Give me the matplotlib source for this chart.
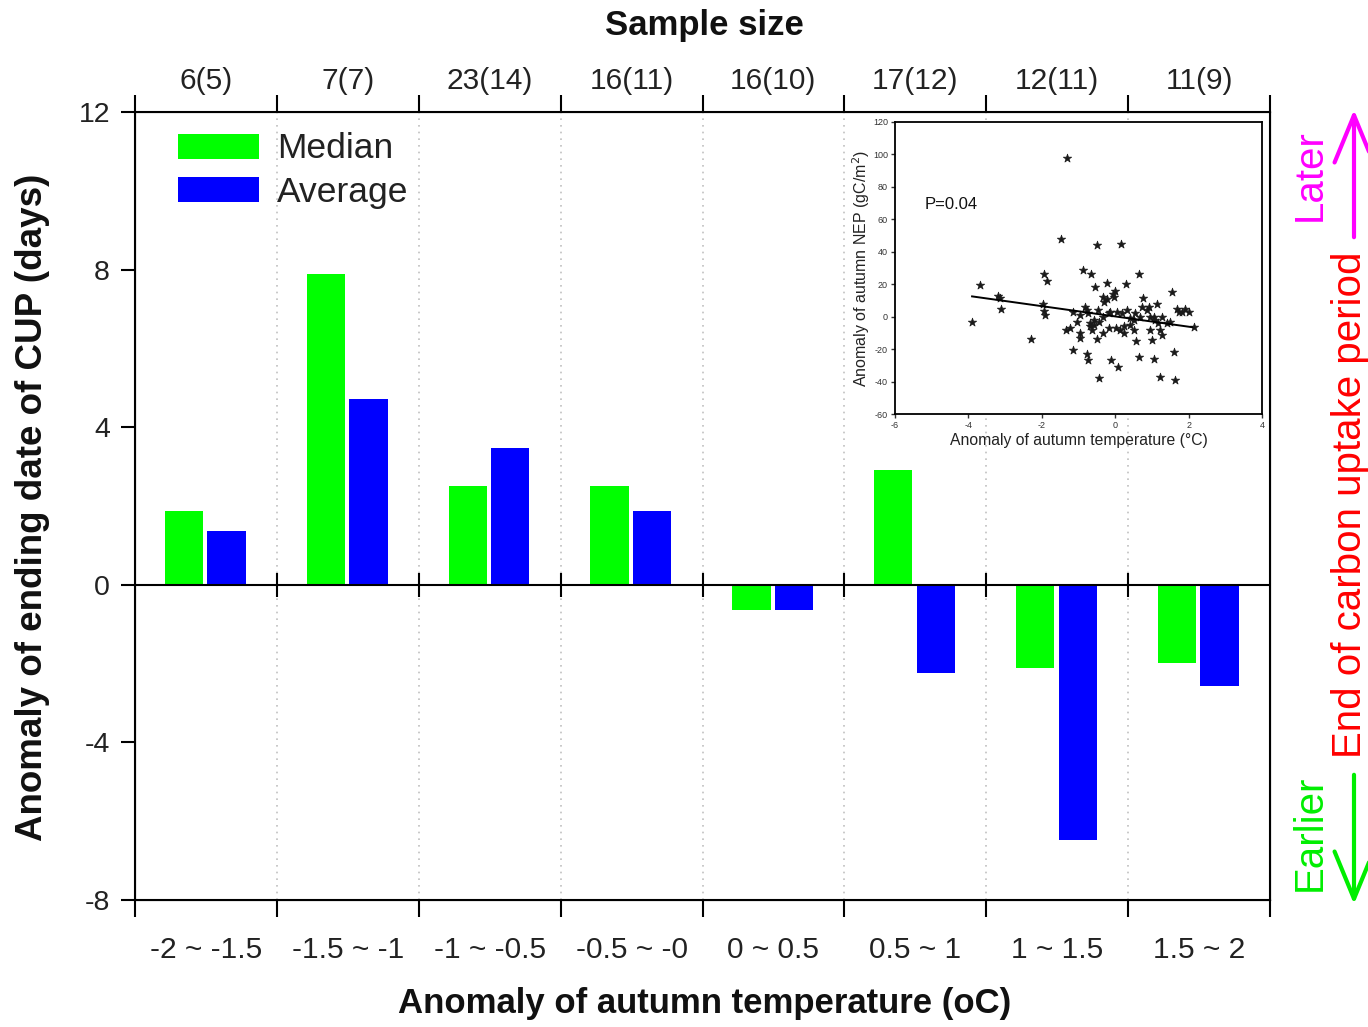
import numpy as np
import matplotlib
matplotlib.use("Agg")
import matplotlib.pyplot as plt

plt.rcParams['font.family'] = ['Liberation Sans', 'DejaVu Sans']
plt.rcParams['axes.unicode_minus'] = False

categories = ["-2 ~ -1.5", "-1.5 ~ -1", "-1 ~ -0.5", "-0.5 ~ -0", "0 ~ 0.5", "0.5 ~ 1", "1 ~ 1.5", "1.5 ~ 2"]
sample_sizes = ["6(5)", "7(7)", "23(14)", "16(11)", "16(10)", "17(12)", "12(11)", "11(9)"]
median_vals = [1.88, 7.9, 2.51, 2.51, -0.63, 2.92, -2.1, -1.98]
average_vals = [1.37, 4.72, 3.48, 1.88, -0.63, -2.23, -6.47, -2.56]

# inset scatter data (autumn temperature anomaly vs autumn NEP anomaly)
temp_anom = [-3.89, -3.68, -3.18, -3.15, -3.12, -2.29, -1.94, -1.86, -1.98, -1.94, -1.91, -1.48,
             -1.31, -1.35, -1.14, -1.03, -0.97, -0.95, -0.88, -0.77, -0.73, -0.82, -0.66, -0.70,
             -0.64, -0.55, -0.50, -0.50, -0.48, -0.43, -0.32, -0.32, -0.30, -0.23, -0.18, -0.12,
             -0.05, -0.03, 0.00, 0.07, 0.16, 0.01, 0.23, 0.30, 0.25, 0.50, 0.57, 0.64, 0.64, 0.77,
             0.73, 0.94, 0.99, 1.05, 1.14, 1.21, 1.27, 1.23, 1.56, 1.59, 1.62, 1.68, 1.73, 1.91,
             2.00, 2.14, 1.50, 0.95, 0.86, 1.05, 1.09, 0.41, 0.32, 0.18, 0.05, -0.14, -0.32, -0.45,
             -0.59, -0.73, -1.14, -1.23, -0.18, 0.50, -0.59, 1.41, 1.82, 0.55, 0.68, 1.27, -0.68,
             0.14, 0.41, -0.23, 0.91, -0.95, -0.77, 1.16]
nep_anom = [-3.5, 19.7, 13.0, 11.7, 4.5, -13.5, 26.0, 22.0, 8.0, 3.3, 0.8, 48.0,
            97.5, -8.0, -20.7, -3.3, -13.0, -10.0, 29.0, -23.0, -27.0, 6.0, 26.0, -4.0,
            -8.0, 18.0, 44.0, -14.0, 4.0, -38.0, -10.0, 12.0, 9.0, 21.0, -7.0, -27.0,
            14.0, 12.0, 16.0, -31.0, 45.0, -7.0, -6.0, 20.0, -10.0, -8.0, -15.0, 26.5, -25.0, 11.5,
            6.0, -8.0, -14.6, -26.0, 8.0, -37.0, -11.5, -8.0, 15.0, -21.6, -39.0, 5.0, 3.0, 5.0,
            3.0, -6.5, -3.3, 0.0, 4.0, -0.2, -2.0, -1.0, 4.0, 2.0, 3.0, 3.0, 0.0, -3.0,
            -2.0, 2.0, 3.0, -7.0, 2.0, -2.0, -5.0, -4.0, 3.0, 2.0, 0.0, 0.0, -6.0,
            -8.0, -5.0, 11.0, 6.0, 1.0, 4.0, -4.0]
fit_x = [-3.9, 2.1]
fit_y = [12.5, -6.5]

W, H = 1368, 1027
fig = plt.figure(figsize=(W / 100, H / 100), dpi=100)
ax = fig.add_axes([135 / W, 1 - 900 / H, (1270 - 135) / W, (900 - 112) / H])

n = len(categories)
centers = np.arange(n) + 0.5
bw = 0.27
ax.bar(centers - 0.155, median_vals, width=bw, color='#00ff00', label='Median', zorder=3)
ax.bar(centers + 0.145, average_vals, width=bw, color='#0000ff', label='Average', zorder=3)

ax.set_xlim(0, n)
ax.set_ylim(-8, 12)
ax.set_yticks([-8, -4, 0, 4, 8, 12])
ax.set_xticks(np.arange(n + 1))
ax.set_xticklabels([])
ax.set_xticks(centers, minor=True)
ax.set_xticklabels(categories, minor=True)
ax.tick_params(axis='x', which='minor', length=0, pad=26, labelsize=21.5, colors='#222222')
ax.tick_params(axis='x', which='major', direction='out', length=12, width=1.5)
ax.tick_params(axis='y', direction='out', length=10, width=1.5, labelsize=20.5, pad=8)
for tl in ax.get_yticklabels():
    tl.set_color('#222222')

for b in range(1, n):
    ax.axvline(b, color='#c0c0c0', linestyle=(0, (1, 3)), lw=1.2, zorder=1)
ax.axhline(0, color='black', lw=1.5, zorder=4)
ax.vlines(np.arange(1, n), -0.3, 0.3, color='black', lw=1.5, zorder=4)

for s in ax.spines.values():
    s.set_linewidth(1.5)

fig.text(705 / W, 1 - 1003 / H, 'Anomaly of autumn temperature (oC)', fontsize=25,
         fontweight='bold', ha='center', va='center', color='#111111')
fig.text(33 / W, 1 - 507 / H, 'Anomaly of ending date of CUP (days)', fontsize=26.5,
         fontweight='bold', ha='center', va='center', rotation=90, color='#111111')
fig.text(704 / W, 1 - 26 / H, 'Sample size', fontsize=25, fontweight='bold',
         ha='center', va='center', color='#111111')

# top axis with sample sizes
axt = ax.twiny()
axt.set_xlim(0, n)
axt.set_xticks(np.arange(n + 1))
axt.set_xticklabels([])
axt.set_xticks(centers, minor=True)
axt.set_xticklabels(sample_sizes, minor=True)
axt.tick_params(axis='x', which='minor', length=0, pad=12, labelsize=21.5, colors='#222222')
axt.tick_params(axis='x', which='major', direction='out', length=12, width=1.5)

leg = ax.legend(loc='upper left', bbox_to_anchor=(0.0379, 0.974), frameon=False, fontsize=25.5,
                handlelength=2.3, handleheight=0.71, handletextpad=0.5, labelspacing=0.3,
                borderpad=0, borderaxespad=0)
for t in leg.get_texts():
    t.set_color('#222222')

# right side annotation
fig.text(1310 / W, 1 - 175 / H, 'Later', rotation=90, color='#ff00ff', fontsize=29,
         ha='center', va='center')
fig.text(1310 / W, 1 - 833 / H, 'Earlier', rotation=90, color='#00ee00', fontsize=29,
         ha='center', va='center')
fig.text(1350 / W, 1 - 505 / H, 'End of carbon uptake period', rotation=90, color='#ff0000',
         fontsize=29, ha='center', va='center')
fig.add_artist(matplotlib.patches.FancyArrowPatch(
    (1354 / W, 1 - 240 / H), (1354 / W, 1 - 107 / H), transform=fig.transFigure,
    arrowstyle='->,head_length=34,head_width=14', color='#ff00ff', lw=3,
    mutation_scale=1))
fig.add_artist(matplotlib.patches.FancyArrowPatch(
    (1354 / W, 1 - 772 / H), (1354 / W, 1 - 907 / H), transform=fig.transFigure,
    arrowstyle='->,head_length=34,head_width=14', color='#00ee00', lw=3,
    mutation_scale=1))

# inset
axi = fig.add_axes([895 / W, 1 - 414 / H, (1262 - 895) / W, (414 - 122) / H])
axi.scatter(temp_anom, nep_anom, marker='*', s=40, color='#1a1a1a', zorder=3, linewidths=0.5)
axi.plot(fit_x, fit_y, color='black', lw=1.4, zorder=4)
axi.set_xlim(-6, 4)
axi.set_ylim(-60, 120)
axi.set_xticks([-6, -4, -2, 0, 2, 4])
axi.set_yticks(np.arange(-60, 121, 20))
axi.tick_params(labelsize=6.5, length=3, width=1, pad=2, colors='#333333')
for s in axi.spines.values():
    s.set_linewidth(1.3)
axi.set_xlabel('Anomaly of autumn temperature (\u00b0C)', fontsize=11.3, labelpad=2, color='#222222')
axi.set_ylabel('Anomaly of autumn NEP (gC/m$^2$)', fontsize=11.5, labelpad=1, color='#222222')
axi.text(-5.2, 69, 'P=0.04', fontsize=12, color='#111111', va='center')

fig.savefig('out.png', dpi=100)
